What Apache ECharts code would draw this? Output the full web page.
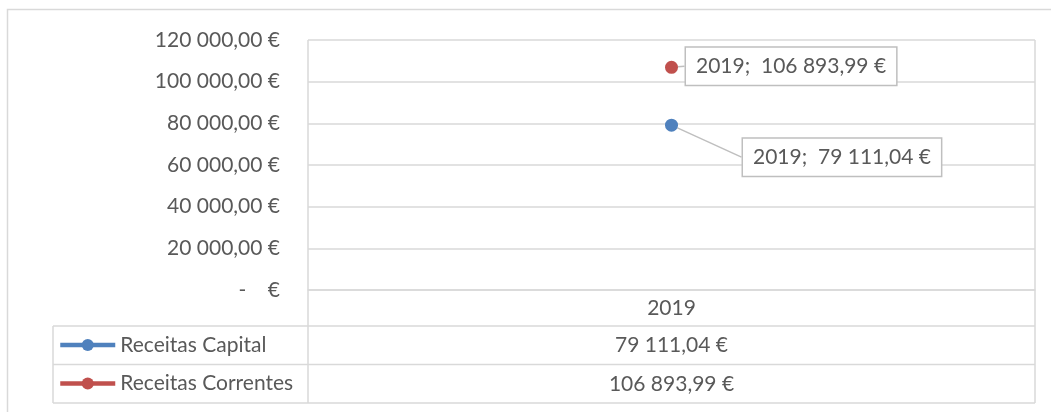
<!DOCTYPE html>
<html>
<head>
<meta charset="utf-8">
<script src="https://cdn.jsdelivr.net/npm/echarts@6/dist/echarts.min.js"></script>
<style>
html,body{margin:0;padding:0;background:#fff;}
#c{width:1051px;height:412px;}
</style>
</head>
<body>
<div id="c"></div>
<script>
const categories = ['2019'];
const seriesNames = ['Receitas Capital', 'Receitas Correntes'];
const receitasCapital = [79111.04];
const receitasCorrentes = [106893.99];
const seriesColors = ['#4F81BD', '#C0504D'];
const yMin = 0, yMax = 120000, yInterval = 20000;

function fmtEuro(v) {
  const parts = v.toFixed(2).split('.');
  const intPart = parts[0].replace(/\B(?=(\d{3})+(?!\d))/g, ' ');
  return intPart + ',' + parts[1] + ' €';
}

const FONT = 'Lato';
const FS = 21;
const TXT = '#595959';
const LINE = '#d9d9d9';

// layout of frame
const plotL = 308, plotR = 1035, plotT = 40, plotB = 290;
const tableL = 53, row1B = 326, row2B = 364.5, row3B = 403;

const chart = echarts.init(document.getElementById('c'), null, {renderer: 'canvas'});

const labelCommon = {
  show: true,
  position: 'right',
  distance: 8,
  fontFamily: FONT,
  fontSize: FS,
  color: TXT,
  backgroundColor: '#fff',
  borderColor: '#bfbfbf',
  borderWidth: 1.5,
  padding: [6, 10, 6, 10],
  lineHeight: 25,
  formatter: p => p.name + ';  ' + fmtEuro(p.value)
};

const option = {
  animation: false,
  textStyle: {fontFamily: FONT},
  grid: {left: plotL, right: 1051 - plotR, top: plotT, bottom: 412 - plotB, containLabel: false},
  legend: {
    orient: 'vertical',
    left: 58, top: 332.5, padding: 0,
    itemWidth: 55, itemHeight: 15, itemGap: 13.5,
    lineStyle: {width: 4.5},
    textStyle: {fontFamily: FONT, fontSize: FS, color: TXT, lineHeight: 25},
    data: seriesNames,
    selectedMode: false
  },
  xAxis: {
    type: 'category',
    data: categories,
    boundaryGap: true,
    axisLine: {lineStyle: {color: LINE, width: 1.5}},
    axisTick: {show: false},
    axisLabel: {fontFamily: FONT, fontSize: FS, color: TXT, margin: 8}
  },
  yAxis: {
    type: 'value',
    min: yMin, max: yMax, interval: yInterval,
    axisLine: {show: false},
    axisTick: {show: false},
    splitLine: {lineStyle: {color: LINE, width: 1.5}},
    axisLabel: {
      fontFamily: FONT, fontSize: FS, color: TXT, margin: 28,
      formatter: v => v === 0 ? '-    €' : fmtEuro(v)
    }
  },
  series: [
    {
      name: seriesNames[0], type: 'line', data: receitasCapital,
      symbol: 'circle', symbolSize: 13,
      itemStyle: {color: seriesColors[0]},
      lineStyle: {color: seriesColors[0], width: 4.5},
      label: labelCommon,
      labelLine: {show: true, lineStyle: {color: '#bfbfbf', width: 1.5}},
      labelLayout: {dx: 57, dy: 32}
    },
    {
      name: seriesNames[1], type: 'line', data: receitasCorrentes,
      symbol: 'circle', symbolSize: 13,
      itemStyle: {color: seriesColors[1]},
      lineStyle: {color: seriesColors[1], width: 4.5},
      label: labelCommon,
      labelLine: {show: true, lineStyle: {color: '#bfbfbf', width: 1.5}},
      labelLayout: {dx: 0, dy: -1}
    }
  ]
};
chart.setOption(option);

// table and frame drawn around the plot
const cx = chart.convertToPixel({xAxisIndex: 0}, categories[0]);
const ln = (x1, y1, x2, y2) => ({type: 'line', silent: true, z: 0,
  shape: {x1, y1, x2, y2}, style: {stroke: LINE, lineWidth: 1.5}});
const graphics = [
  {type: 'rect', silent: true, z: 0, shape: {x: 7.5, y: 9.5, width: 1200, height: 600},
   style: {fill: 'none', stroke: LINE, lineWidth: 1.5}},
  ln(plotL, plotT, plotL, row3B),
  ln(plotR, plotT, plotR, row3B),
  ln(tableL, row1B, plotR, row1B),
  ln(tableL, row2B, plotR, row2B),
  ln(tableL, row3B, plotR, row3B),
  ln(tableL, row1B, tableL, row3B)
];
const vals = [receitasCapital[0], receitasCorrentes[0]];
const rowCenters = [(row1B + row2B) / 2, (row2B + row3B) / 2];
vals.forEach((v, i) => {
  graphics.push({type: 'text', silent: true, x: cx, y: rowCenters[i],
    style: {text: fmtEuro(v), fontFamily: FONT, fontSize: FS, fill: TXT, align: 'center', verticalAlign: 'middle'}});
});
chart.setOption({graphic: graphics});
</script>
</body>
</html>
